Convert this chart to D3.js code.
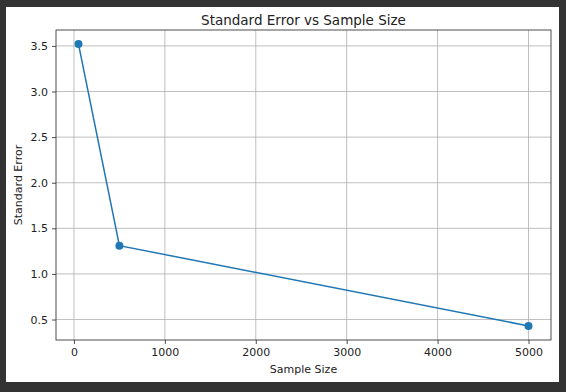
<!DOCTYPE html>
<html>
<head>
<meta charset="utf-8">
<script src="https://cdn.jsdelivr.net/npm/d3@7"></script>
<style>
  body { margin: 0; background: #333333; }
  text { font-family: "DejaVu Sans", sans-serif; fill: #222; }
</style>
</head>
<body>
<div id="chart"></div>
<script>
// data
var sampleSizes = [50, 500, 5000];
var stdErrors = [3.52, 1.31, 0.43];
var xTicks = [0, 1000, 2000, 3000, 4000, 5000];
var yTicks = [0.5, 1.0, 1.5, 2.0, 2.5, 3.0, 3.5];

var W = 566, H = 392;
var margin = {top: 30, right: 15, bottom: 52, left: 56};
var width = W - margin.left - margin.right;
var height = H - margin.top - margin.bottom;

var svg = d3.select("#chart").append("svg")
    .attr("width", W)
    .attr("height", H);

// white figure area inside the dark frame
svg.append("rect")
    .attr("x", 6).attr("y", 7)
    .attr("width", 553).attr("height", 375)
    .attr("fill", "#ffffff");

var g = svg.append("g")
    .attr("transform", "translate(" + margin.left + "," + margin.top + ")");

// matplotlib style 5% padding
var xPad = (d3.max(sampleSizes) - d3.min(sampleSizes)) * 0.05;
var yPad = (d3.max(stdErrors) - d3.min(stdErrors)) * 0.05;

var x = d3.scaleLinear()
    .domain([d3.min(sampleSizes) - xPad, d3.max(sampleSizes) + xPad])
    .range([0, width]);
var y = d3.scaleLinear()
    .domain([d3.min(stdErrors) - yPad, d3.max(stdErrors) + yPad])
    .range([height, 0]);

// grid
g.selectAll("line.vgrid").data(xTicks).enter().append("line")
    .attr("class", "vgrid")
    .attr("x1", function(d) { return x(d); })
    .attr("x2", function(d) { return x(d); })
    .attr("y1", 0).attr("y2", height)
    .attr("stroke", "#b0b0b0").attr("stroke-width", 0.8);
g.selectAll("line.hgrid").data(yTicks).enter().append("line")
    .attr("class", "hgrid")
    .attr("y1", function(d) { return y(d); })
    .attr("y2", function(d) { return y(d); })
    .attr("x1", 0).attr("x2", width)
    .attr("stroke", "#b0b0b0").attr("stroke-width", 0.8);

// axes
var xAxis = d3.axisBottom(x).tickValues(xTicks).tickFormat(d3.format("d"))
    .tickSizeInner(4).tickSizeOuter(0).tickPadding(4);
var yAxis = d3.axisLeft(y).tickValues(yTicks).tickFormat(d3.format(".1f"))
    .tickSizeInner(4).tickSizeOuter(0).tickPadding(4);

var gx = g.append("g")
    .attr("transform", "translate(0," + height + ")")
    .call(xAxis);
var gy = g.append("g").call(yAxis);
[gx, gy].forEach(function(a) {
  a.select(".domain").remove();
  a.selectAll("line").attr("stroke", "#222").attr("stroke-width", 0.8);
  a.selectAll("text").style("font-size", "11px").attr("fill", "#222")
    .style("font-family", "DejaVu Sans, sans-serif");
});

// frame around plot
g.append("rect")
    .attr("width", width).attr("height", height)
    .attr("fill", "none").attr("stroke", "#222").attr("stroke-width", 0.8);

// line + markers
var line = d3.line()
    .x(function(d, i) { return x(sampleSizes[i]); })
    .y(function(d) { return y(d); });

g.append("path")
    .datum(stdErrors)
    .attr("d", line)
    .attr("fill", "none")
    .attr("stroke", "#1f77b4")
    .attr("stroke-width", 1.5);

g.selectAll("circle").data(stdErrors).enter().append("circle")
    .attr("cx", function(d, i) { return x(sampleSizes[i]); })
    .attr("cy", function(d) { return y(d); })
    .attr("r", 4)
    .attr("fill", "#1f77b4");

// labels
svg.append("text")
    .attr("x", margin.left + width / 2).attr("y", 25)
    .attr("text-anchor", "middle")
    .style("font-size", "13.5px")
    .text("Standard Error vs Sample Size");

svg.append("text")
    .attr("x", margin.left + width / 2).attr("y", H - 19)
    .attr("text-anchor", "middle")
    .style("font-size", "11px")
    .text("Sample Size");

svg.append("text")
    .attr("transform", "translate(22," + (margin.top + height / 2) + ") rotate(-90)")
    .attr("text-anchor", "middle")
    .style("font-size", "11px")
    .text("Standard Error");
</script>
</body>
</html>
